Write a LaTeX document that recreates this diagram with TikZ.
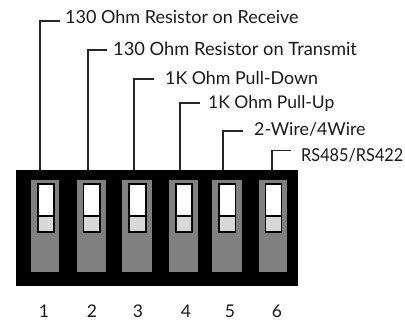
\documentclass[tikz,border=0pt]{standalone}
\usepackage{fontspec}
\setmainfont{Lato}
\definecolor{slotgray}{RGB}{128,128,128}
\definecolor{lowgray}{RGB}{216,216,216}
\tikzset{
 lbl/.style={anchor=base west,inner sep=0pt,text=black!90},
 num/.style={anchor=base,inner sep=0pt,font=\fontsize{17.5}{18}\selectfont,text=black!90},
 lead/.style={draw=black!85,line width=1.2pt},
 pad/.style={fill=black,draw=none},
 slot/.style={fill=slotgray,draw=none},
 knobtop/.style={fill=white,draw=black,line width=1.5pt},
 knoblow/.style={fill=lowgray,draw=black,line width=1.5pt}
}
\begin{document}
\begin{tikzpicture}[x=1pt,y=-1pt]
\useasboundingbox (0,0) rectangle (405,320);
\fill[pad] (16,170) rectangle (298,286);
\foreach \a/\b in {31/59,77/106,122/152,169/198,212/242,259/287}{
  \fill[slot] (\a,180) rectangle (\b,272);
}
\foreach \a/\b in {38/54,83.5/100,129/146,176/192,219/235.5,265.5/281.5}{
  \draw[knobtop] (\a,184) rectangle (\b,216);
  \draw[knoblow] (\a,216) rectangle (\b,232);
}
\foreach \i/\x/\y/\e/\t/\tx/\bl/\fs/\sx in {
 1/40/21/60/{130 Ohm Resistor on Receive}/65/24/18/1,
 2/88/50/107/{130 Ohm Resistor on Transmit}/113/56/18.3/1,
 3/134/79/154/{1K Ohm Pull-Down}/165/85/17.8/1,
 4/180/103/200/{1K Ohm Pull-Up}/208/109/17.5/1,
 5/223/131/243/{2-Wire/4Wire}/254/136/17.8/1,
 6/272/150.5/291/{RS485/RS422}/301/161.5/17.8/0.915}{
  \coordinate (b\i) at (\x,170);
  \coordinate (c\i) at (\x,\y);
  \coordinate (e\i) at (\e,\y);
  \draw[lead] (b\i) -- (c\i) -- (e\i);
  \node[lbl,font=\fontsize{\fs}{18}\selectfont] (t\i) at (\tx,\bl) {\scalebox{\sx}[1]{\t}};
}
\foreach \i/\x in {1/44,2/92,3/138,4/186,5/230,6/277}{
  \node[num] (n\i) at (\x,317.5) {\i};
}
\end{tikzpicture}
\end{document}
